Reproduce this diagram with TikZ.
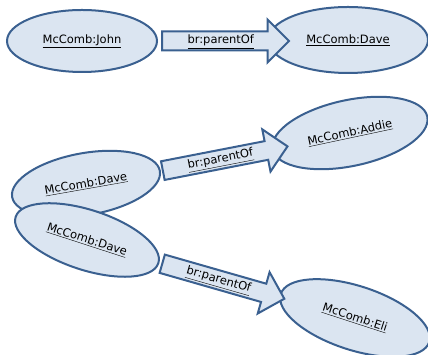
\documentclass[tikz,border=0pt]{standalone}
\usepackage{fontspec}
\setmainfont{DejaVu Sans}
\usetikzlibrary{shapes.geometric,shapes.arrows}
\definecolor{resfill}{HTML}{DBE5F1}
\definecolor{resline}{HTML}{3A6090}
\begin{document}
\begin{tikzpicture}[x=1pt,y=1pt,
    res/.style={ellipse,draw=resline,fill=resfill,line width=2pt,inner sep=0pt,
      font=\fontsize{11.5}{13}\selectfont},
    prop/.style={single arrow,draw=resline,fill=resfill,line width=2pt,
      minimum height=127pt,single arrow head extend=12pt,inner ysep=3.5pt,
      text height=8pt,text depth=2pt,anchor=tail,
      font=\fontsize{11.5}{13}\selectfont}]
  \useasboundingbox (0,0) rectangle (428,355);
  \node[res,minimum width=150pt,minimum height=62pt] (John) at (82,314) {\underline{McComb:John}};
  \node[res,minimum width=160pt,minimum height=66pt] (Dave) at (348,315) {\underline{McComb:Dave}};
  \node[res,minimum width=158pt,minimum height=66pt,rotate=12] (Addie) at (350,222) {\underline{McComb:Addie}};
  \node[res,minimum width=150pt,minimum height=62pt,rotate=10] (Dave-2) at (86,171) {\underline{McComb:Dave}};
  \node[res,minimum width=150pt,minimum height=60pt,rotate=-18] (Dave-3) at (87,115) {\underline{McComb:Dave}};
  \node[res,minimum width=156pt,minimum height=64pt,rotate=-18] (Eli) at (355,37) {\underline{McComb:Eli}};
  % properties
  \node[prop] (John-Dave) at ([xshift=3pt]John.east) {\underline{br:parentOf}};
  \node[prop,rotate=11] (Dave-Addie) at ([xshift=1pt]Dave-2.east) {\underline{br:parentOf}};
  \node[prop,rotate=-16] (Dave-Eli) at ([xshift=2pt]Dave-3.east) {\underline{br:parentOf}};
\end{tikzpicture}
\end{document}
